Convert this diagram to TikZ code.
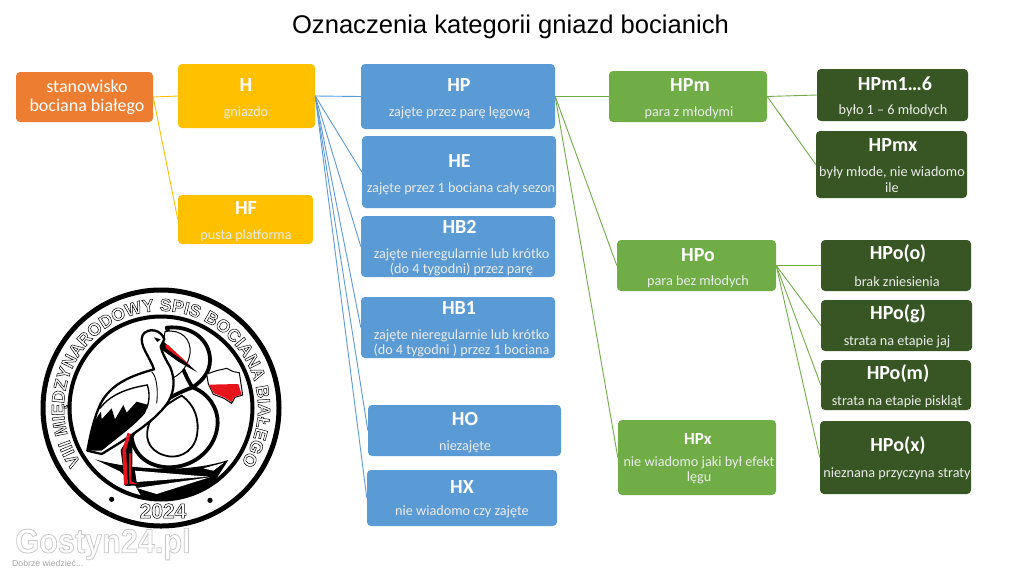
\documentclass[tikz,border=0pt]{standalone}
\usepackage{fontspec}
\setmainfont{Carlito}
\newfontfamily\titlefont{Liberation Sans}
\newfontfamily\logofont{Liberation Sans}[BoldFont={Liberation Sans Bold}]
\usetikzlibrary{decorations.text}
\definecolor{orangeb}{HTML}{ED7D31}
\definecolor{yellowb}{HTML}{FFC000}
\definecolor{blueb}{HTML}{5B9BD5}
\definecolor{greenb}{HTML}{70AD47}
\definecolor{darkb}{HTML}{375623}
\definecolor{redb}{HTML}{E8141C}
\tikzset{
  box/.style={rounded corners=4pt,fill=#1,draw=none,inner sep=0pt},
  ttl/.style={text=white,font=\fontsize{20}{22}\selectfont\bfseries,inner sep=0pt,yshift=-0.8pt},
  dsc/.style={text=white!92!black,font=\fontsize{14.2}{15.5}\selectfont,align=center,inner sep=0pt,yshift=-1.4pt},
  ylink/.style={draw=yellowb,line width=0.9pt},
  blink/.style={draw=blueb,line width=0.9pt},
  glink/.style={draw=greenb,line width=0.9pt},
}
\newcommand{\cbox}[6]{% name colour x1 y1 x2 y2
  \pgfmathsetmacro\cw{#5-#3}\pgfmathsetmacro\ch{#6-#4}
  \pgfmathsetmacro\cx{(#3+#5)/2}\pgfmathsetmacro\cy{(#4+#6)/2}
  \node[box=#2,minimum width=\cw pt,minimum height=\ch pt] (#1) at (\cx,\cy) {};}
\begin{document}
\begin{tikzpicture}[x=1pt,y=-1pt]
\useasboundingbox (0,0) rectangle (1024,576);
\fill[white] (0,0) rectangle (1024,576);
\node[font=\titlefont\fontsize{25.6}{28}\selectfont,inner sep=0pt] (title) at (510.5,27) {Oznaczenia kategorii gniazd bocianich};

\cbox{st}{orangeb}{16}{72}{153}{122}
\cbox{H}{yellowb}{178}{64}{315}{128}
\cbox{HF}{yellowb}{178}{195}{313}{244}
\cbox{HP}{blueb}{361}{64}{555}{129}
\cbox{HE}{blueb}{362}{136}{556}{208}
\cbox{HBtwo}{blueb}{361}{216}{555}{277}
\cbox{HBone}{blueb}{361}{297}{555}{358}
\cbox{HO}{blueb}{368}{405}{561}{456}
\cbox{HX}{blueb}{367}{470}{557}{526}
\cbox{HPm}{greenb}{609}{71}{767}{122}
\cbox{HPo}{greenb}{617}{240}{776}{291}
\cbox{HPx}{greenb}{618}{420}{776}{495}
\cbox{HPmn}{darkb}{817}{69}{968}{121}
\cbox{HPmx}{darkb}{816}{131}{967}{198}
\cbox{HPoo}{darkb}{821}{240}{971}{291}
\cbox{HPog}{darkb}{821}{300}{972}{351}
\cbox{HPom}{darkb}{821}{360}{971}{410}
\cbox{HPox}{darkb}{820}{421}{971}{494}

\draw[ylink] (st.east) -- (H.west);
\draw[ylink] (st.east) -- (HF.west);
\foreach \t in {HP,HE,HBtwo,HBone,HO,HX} \draw[blink] (H.east) -- (\t.west);
\foreach \t in {HPm,HPo,HPx} \draw[glink] (HP.east) -- (\t.west);
\foreach \t in {HPmn,HPmx} \draw[glink] (HPm.east) -- (\t.west);
\foreach \t in {HPoo,HPog,HPom,HPox} \draw[glink] (HPo.east) -- (\t.west);

\node[text=white,font=\fontsize{18}{18.5}\selectfont,align=center,inner sep=0pt] (stt) at (87,97.5) {stanowisko\\bociana białego};
\node[ttl] (t1) at (246,84) {H};
\node[dsc] (d1) at (246,111) {gniazdo};
\node[ttl] (t2) at (246,207) {HF};
\node[dsc] (d2) at (246,234) {pusta platforma};
\node[ttl] (t3) at (459,84) {HP};
\node[dsc] (d3) at (459.5,111) {zajęte przez parę lęgową};
\node[ttl] (t4) at (459.5,160) {HE};
\node[dsc] (d4) at (461,187) {zajęte przez 1 bociana cały sezon};
\node[ttl] (t5) at (459.5,226) {HB2};
\node[dsc] (d5) at (461.5,261) {zajęte nieregularnie lub krótko\\(do 4 tygodni) przez parę};
\node[ttl] (t6) at (459,307) {HB1};
\node[dsc] (d6) at (461.5,342) {zajęte nieregularnie lub krótko\\(do 4 tygodni ) przez 1 bociana};
\node[ttl] (t7) at (465,418) {HO};
\node[dsc] (d7) at (465,445) {niezajęte};
\node[ttl] (t8) at (462,486) {HX};
\node[dsc] (d8) at (462,510.5) {nie wiadomo czy zajęte};
\node[ttl] (t9) at (690,84) {HPm};
\node[dsc] (d9) at (689,111) {para z młodymi};
\node[ttl] (t10) at (698,254) {HPo};
\node[dsc] (d10) at (698,280) {para bez młodych};
\node[ttl,font=\fontsize{17}{18}\selectfont\bfseries] (t11) at (698,438) {HPx};
\node[dsc] (d11) at (699,469) {nie wiadomo jaki był efekt\\lęgu};
\node[ttl] (t12) at (895,83) {HPm1…6};
\node[dsc] (d12) at (893,109) {było 1 – 6 młodych};
\node[ttl] (t13) at (893,144) {HPmx};
\node[dsc] (d13) at (892,178) {były młode, nie wiadomo\\ile};
\node[ttl] (t14) at (898,253) {HPo(o)};
\node[dsc] (d14) at (897,280) {brak zniesienia};
\node[ttl] (t15) at (898,313) {HPo(g)};
\node[dsc] (d15) at (897,340) {strata na etapie jaj};
\node[ttl] (t16) at (898,373) {HPo(m)};
\node[dsc] (d16) at (897,400) {strata na etapie piskląt};
\node[ttl] (t17) at (898,445) {HPo(x)};
\node[dsc] (d17) at (897,472) {nieznana przyczyna straty};

% logo
\coordinate (lc) at (161,408);
\draw[line width=5pt] (lc) circle[radius=118pt];
\draw[line width=4pt] (lc) circle[radius=91.5pt];
\begin{scope}
  \clip (lc) circle[radius=90pt];
  \begin{scope}[shift={(0,280)},x=0.33333pt,y=-0.33333pt]
  % nest
  \fill (285,538) .. controls (400,570) and (560,580) .. (685,540) -- (640,610) -- (540,660) -- (430,660) -- (405,615) -- (360,574) -- cycle;
  % eight ribbon
  \draw[fill=white,line width=3.8pt,line join=round]
    (500,143) .. controls (575,135) and (630,180) .. (630,240)
    .. controls (630,275) and (610,300) .. (578,322)
    .. controls (625,340) and (655,385) .. (653,430)
    .. controls (650,500) and (590,560) .. (510,562)
    .. controls (440,562) and (400,520) .. (395,470)
    .. controls (430,400) and (500,350) .. (578,322)
    .. controls (560,300) and (520,200) .. (500,143) -- cycle;
  \draw[fill=white,line width=1.8pt]
    (545,347) .. controls (585,375) and (600,420) .. (590,470)
    .. controls (578,520) and (530,540) .. (490,525)
    .. controls (445,510) and (430,470) .. (450,425)
    .. controls (470,395) and (510,365) .. (545,347) -- cycle;
  \draw[line width=1pt,fill=white] (495,155) .. controls (545,145) and (575,180) .. (570,220)
    .. controls (565,255) and (545,280) .. (522,292) -- (480,250) -- cycle;
  % nest streaks
  \fill[white] (405,572) -- (625,590) -- (410,606) -- cycle;
  \fill[white] (410,624) -- (628,592) -- (470,642) -- cycle;
  \fill[white] (610,565) -- (672,548) -- (640,572) -- cycle;
  % stork body
  \draw[fill=white,line width=2.3pt,line join=round]
    (493,178) .. controls (485,150) and (445,140) .. (428,165)
    .. controls (415,195) and (450,230) .. (462,268)
    .. controls (400,285) and (330,310) .. (300,375)
    .. controls (280,420) and (270,470) .. (262,512)
    -- (305,522)
    .. controls (390,470) and (470,420) .. (505,365)
    .. controls (525,330) and (525,295) .. (510,260)
    .. controls (495,235) and (485,215) .. (482,200) -- cycle;
  % wing
  \fill (262,512) -- (285,420) -- (303,395) -- (305,418) -- (335,385) -- (345,418) -- (370,375) -- (380,398) -- (410,365) -- (445,375) -- (435,400)
    .. controls (400,440) and (350,475) .. (305,512) -- cycle;
  \draw[line width=1.4pt] (300,385) .. controls (330,345) and (380,325) .. (442,315) .. controls (450,340) and (448,365) .. (440,385);
  \draw[line width=0.9pt] (455,275) .. controls (470,290) and (475,330) .. (470,370);
  % eye
  \fill (462,172) -- (482,178) -- (472,186) -- cycle;
  % beak
  \fill (493,187) -- (592,277) -- (535,245) -- (480,205) -- cycle;
  \fill[redb] (496,194) -- (503,194) -- (570,256) -- (497,204) -- cycle;
  % legs
  \fill (392,462) -- (398,470) -- (396,604) -- (416,616) -- (376,618) -- (362,510) -- cycle;
  \fill[redb] (383,458) -- (392,462) -- (378,510) -- (384,612) -- (372,615) -- (367,510) -- cycle;
  \fill[redb] (387,520) -- (393,520) -- (394,604) -- (412,612) -- (388,612) -- cycle;
  % Poland
  \path[fill=white,draw=black,line width=1pt,line join=round]
    (620,282) -- (650,272) -- (680,265) -- (700,275) -- (718,278) -- (728,345) -- (705,352) -- (695,370) -- (672,355) -- (640,343) -- (625,312) -- cycle;
  \fill[redb] (626,314) -- (715,312) -- (725,344) -- (704,350) -- (695,366) -- (672,352) -- (642,340) -- cycle;
  \end{scope}
\end{scope}
\begin{scope}[shift={(0,280)},x=0.33333pt,y=-0.33333pt]
  \fill (335,658) circle[radius=2.6pt];
  \fill (630,661) circle[radius=2.6pt];
\end{scope}
% outlined lettering
\begin{scope}
  \special{pdf:code 1 Tr 0.5 w}
  \path[decorate,decoration={text along path,text align=center,
     text={|\logofont\bfseries\fontsize{17.6}{17.6}\selectfont|VIII MIĘDZYNARODOWY SPIS BOCIANA BIAŁEGO}}]
     ([shift={(226:97pt)}]lc) arc[start angle=226,end angle=-46,radius=97pt];
  \node[font=\logofont\bfseries\fontsize{21}{21}\selectfont,inner sep=0pt] (yr) at (163,511) {2024};
\end{scope}
% watermark
\begin{scope}
  \special{pdf:code 2 Tr 0.8 w}
  \node[text=white,font=\logofont\bfseries\fontsize{34}{34}\selectfont,inner sep=0pt,xscale=0.9,transform shape] (wm) at (103,544) {\pgfsetstrokecolor{black!22}Gostyn24.pl};
\end{scope}
\node[text=black!35,font=\logofont\fontsize{8.7}{8.7}\selectfont,inner sep=0pt,anchor=west] (wm2) at (12,563) {Dobrze wiedzieć...};
\end{tikzpicture}
\end{document}
